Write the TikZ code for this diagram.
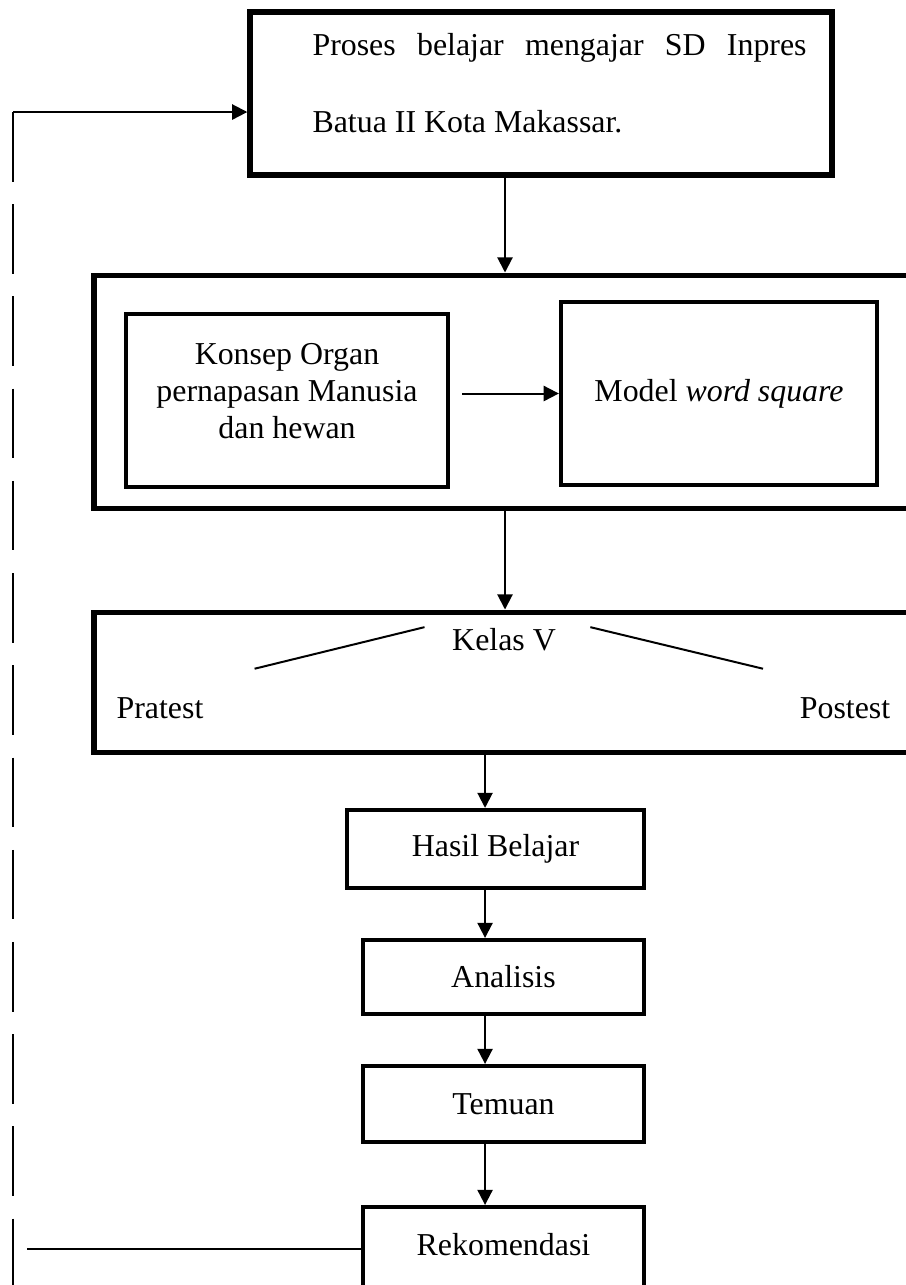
\documentclass[tikz,border=0pt,12pt]{standalone}
\usepackage{fontspec}
\setmainfont{Liberation Serif}
\usetikzlibrary{arrows.meta}

\begin{document}
\begin{tikzpicture}[font=\fontsize{12}{14}\selectfont,
      kotakbesar/.style={draw,line width=1.9pt,inner sep=0pt},
      kotak/.style={draw,line width=1.6pt,inner sep=0pt},
      teks/.style={inner sep=0pt},
      panah/.style={-{Triangle[length=2mm,width=2mm]},line width=0.75pt},
      garis/.style={line width=0.75pt}]
    \clip (0,0) rectangle (11.986,-17.0);
    \coordinate (colA) at (6.681,0);
    \coordinate (colB) at (6.417,0);
    \coordinate (fb) at (0.172,-1.482);
    \coordinate (back) at (0.357,-16.524);

    % kotak atas
    \node[kotakbesar,line width=2pt,minimum width=7.70cm,minimum height=2.157cm] (proses) at (7.157,-1.237) {};
    \node[teks,anchor=west,text width=6.536cm,align=justify,font=\fontsize{12}{28.9}\selectfont] (prosestxt) at (4.128,-1.105)
      {\hyphenpenalty=10000 Proses belajar mengajar SD Inpres Batua II Kota Makassar.};

    % konsep dan model
    \node[kotakbesar,minimum width=11.457cm,minimum height=3.083cm] (blok) at (6.972,-5.180) {};
    \node[kotak,minimum width=4.260cm,minimum height=2.289cm] (konsep) at (3.797,-5.299) {};
    \node[teks,align=center,font=\fontsize{12}{13.9}\selectfont] (konseptxt) at (3.797,-5.17)
      {Konsep Organ\\pernapasan Manusia\\dan hewan};
    \node[kotak,minimum width=4.181cm,minimum height=2.421cm] (model) at (9.512,-5.206) {Model \textit{word square}};

    % kelas V
    \node[kotakbesar,minimum width=11.457cm,minimum height=1.852cm] (kelasbox) at (6.972,-9.023) {};
    \node[teks] (kelas)   at (6.668,-8.467)  {Kelas V};
    \node[teks] (pratest) at (2.117,-9.367)  {Pratest};
    \node[teks] (postest) at (11.179,-9.367) {Postest};

    % alur bawah
    \node[kotak,minimum width=3.929cm,minimum height=1.032cm] (hasil)    at (6.555,-11.232) {Hasil Belajar};
    \node[kotak,minimum width=3.718cm,minimum height=0.979cm] (analisis) at (6.661,-12.926) {Analisis};
    \node[kotak,minimum width=3.718cm,minimum height=1.005cm] (temuan)   at (6.661,-14.606) {Temuan};
    \node[kotak,minimum width=3.718cm,text height=0.641cm,text depth=0.8cm,anchor=base] (rekom) at (6.661,-16.61) {Rekomendasi};

    \draw[panah] (proses.south -| colA) -- (blok.north -| colA);
    \draw[panah] (model.west -| konsep.east) ++(0.16,0) -- (model.west);
    \draw[panah] (blok.south -| colA) -- (kelasbox.north -| colA);
    \draw[garis] ([shift={(-0.36,0.17)}]kelas.west) -- ([shift={(0.67,0.52)}]pratest.east);
    \draw[garis] ([shift={(0.45,0.17)}]kelas.east) -- ([shift={(-0.48,0.52)}]postest.west);
    \draw[panah] (kelasbox.south -| colB) -- (hasil.north -| colB);
    \foreach \a/\b in {hasil/analisis,analisis/temuan,temuan/rekom}
      \draw[panah] (\a.south -| colB) -- (\b.north -| colB);

    % umpan balik
    \draw[garis] (back -| rekom.west) -- (back);
    \draw[garis,dash pattern=on 0.92cm off 0.3cm] (fb) -- ++(0,-15.8);
    \draw[panah] (fb) -- (fb -| proses.west);
  \end{tikzpicture}
\end{document}
